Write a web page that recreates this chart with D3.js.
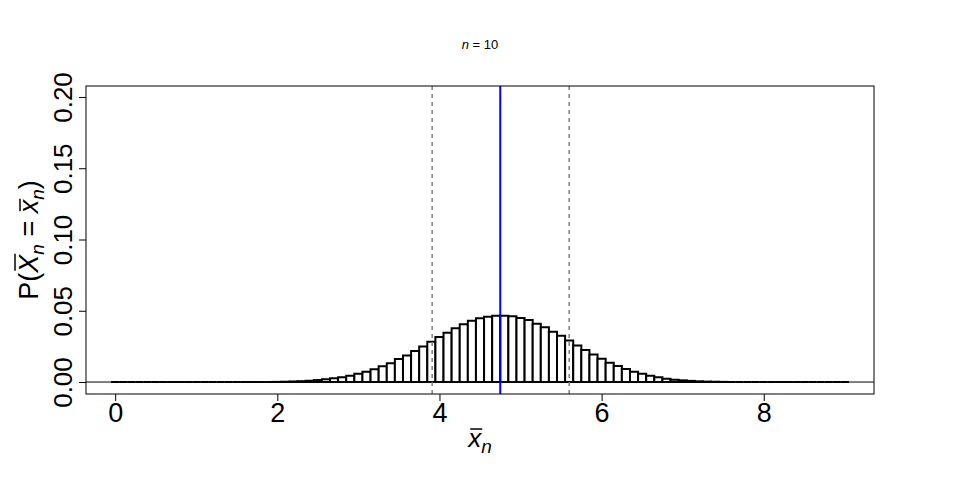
<!DOCTYPE html>
<html>
<head>
<meta charset="utf-8">
<script src="https://cdn.jsdelivr.net/npm/d3@7"></script>
<style>
  body { margin: 0; background: #fff; }
  svg { font-family: "Liberation Sans", Arial, sans-serif; }
</style>
</head>
<body>
<div id="chart"></div>
<script>
// Support of the sample mean (steps of 0.1 from 0 to 9).
const xbarValues = [
  0.0, 0.1, 0.2, 0.3, 0.4, 0.5, 0.6, 0.7, 0.8, 0.9,
  1.0, 1.1, 1.2, 1.3, 1.4, 1.5, 1.6, 1.7, 1.8, 1.9,
  2.0, 2.1, 2.2, 2.3, 2.4, 2.5, 2.6, 2.7, 2.8, 2.9,
  3.0, 3.1, 3.2, 3.3, 3.4, 3.5, 3.6, 3.7, 3.8, 3.9,
  4.0, 4.1, 4.2, 4.3, 4.4, 4.5, 4.6, 4.7, 4.8, 4.9,
  5.0, 5.1, 5.2, 5.3, 5.4, 5.5, 5.6, 5.7, 5.8, 5.9,
  6.0, 6.1, 6.2, 6.3, 6.4, 6.5, 6.6, 6.7, 6.8, 6.9,
  7.0, 7.1, 7.2, 7.3, 7.4, 7.5, 7.6, 7.7, 7.8, 7.9,
  8.0, 8.1, 8.2, 8.3, 8.4, 8.5, 8.6, 8.7, 8.8, 8.9,
  9.0
];

// Probabilities.
const probValues = [
  0, 0, 0, 0, 0, 0, 0, 0, 0, 0,
  0, 0, 0, 0, 0, 0, 0, 0, 0, 0,
  0.0001, 0.0002, 0.0004, 0.0006, 0.0009, 0.0014, 0.0019, 0.0026, 0.0033, 0.0044,
  0.0058, 0.0072, 0.0089, 0.0111, 0.0131, 0.0161, 0.0187, 0.0218, 0.0250, 0.0283,
  0.0316, 0.0346, 0.0377, 0.0405, 0.0430, 0.0447, 0.0458, 0.0465, 0.0465, 0.0461,
  0.0449, 0.0435, 0.0409, 0.0384, 0.0353, 0.0325, 0.0292, 0.0257, 0.0225, 0.0194,
  0.0164, 0.0135, 0.0112, 0.0091, 0.0072, 0.0058, 0.0044, 0.0033, 0.0023, 0.0016,
  0.0012, 0.0008, 0.0005, 0.0003, 0.0002, 0.0001, 0, 0, 0, 0,
  0, 0, 0, 0, 0, 0, 0, 0, 0, 0,
  0
];

const meanValue = 4.75;
const intervalValues = [3.91, 5.60];

const xTicks = [0, 2, 4, 6, 8];
const yTicks = [0, 0.05, 0.10, 0.15, 0.20];

const width = 960;
const height = 480;

// Plot box.
const box = { left: 86, right: 874, top: 86, bottom: 394 };

const data = xbarValues.map((x, i) => ({ x: x, p: probValues[i] }));

const svg = d3.select('#chart')
  .append('svg')
  .attr('width', width)
  .attr('height', height);

const xScale = d3.scaleLinear()
  .domain([-0.36, 9.36])
  .range([box.left, box.right]);

const yScale = d3.scaleLinear()
  .domain([-0.0084, 0.2077])
  .range([box.bottom, box.top]);

const barWidth = xScale(0.1) - xScale(0);

// Bars drawn as closed paths so zero-height bars still show their outline.
svg.append('g')
  .selectAll('path')
  .data(data)
  .enter()
  .append('path')
  .attr('d', (d) => {
    const x0 = xScale(d.x) - barWidth / 2;
    const x1 = xScale(d.x) + barWidth / 2;
    const y0 = yScale(0);
    const y1 = yScale(d.p);
    return `M${x0},${y0}V${y1}H${x1}V${y0}Z`;
  })
  .attr('fill', '#fff')
  .attr('stroke', '#000')
  .attr('stroke-width', 2);

// Zero line.
svg.append('line')
  .attr('x1', box.left)
  .attr('x2', box.right)
  .attr('y1', yScale(0))
  .attr('y2', yScale(0))
  .attr('stroke', '#000')
  .attr('stroke-width', 1);

// Dashed interval lines.
svg.append('g')
  .selectAll('line')
  .data(intervalValues)
  .enter()
  .append('line')
  .attr('x1', (d) => xScale(d))
  .attr('x2', (d) => xScale(d))
  .attr('y1', box.top)
  .attr('y2', box.bottom)
  .attr('stroke', '#808080')
  .attr('stroke-width', 1.5)
  .attr('stroke-dasharray', '4,4');

// Mean line.
svg.append('line')
  .attr('x1', xScale(meanValue))
  .attr('x2', xScale(meanValue))
  .attr('y1', box.top)
  .attr('y2', box.bottom)
  .attr('stroke', '#0000ff')
  .attr('stroke-width', 2);

// Box.
svg.append('rect')
  .attr('x', box.left)
  .attr('y', box.top)
  .attr('width', box.right - box.left)
  .attr('height', box.bottom - box.top)
  .attr('fill', 'none')
  .attr('stroke', '#000')
  .attr('stroke-width', 1);

// Axes.
const xAxis = d3.axisBottom(xScale)
  .tickValues(xTicks)
  .tickSize(7)
  .tickFormat(d3.format('d'));

const gx = svg.append('g')
  .attr('transform', `translate(0, ${box.bottom})`)
  .call(xAxis);
gx.select('.domain').remove();
gx.selectAll('.tick line').attr('stroke', '#000');
gx.selectAll('.tick text')
  .attr('fill', '#000')
  .attr('y', 28)
  .attr('dy', 0)
  .style('font-size', '27px');

const yAxis = d3.axisLeft(yScale)
  .tickValues(yTicks)
  .tickSize(7)
  .tickFormat(d3.format('.2f'));

const gy = svg.append('g')
  .attr('transform', `translate(${box.left}, 0)`)
  .call(yAxis);
gy.select('.domain').remove();
gy.selectAll('.tick line').attr('stroke', '#000');
gy.selectAll('.tick text')
  .attr('fill', '#000')
  .attr('transform', 'rotate(-90)')
  .attr('x', 0)
  .attr('y', -14)
  .attr('dy', 0)
  .attr('text-anchor', 'middle')
  .style('font-size', '26px');

// Title.
const title = svg.append('text')
  .attr('x', width / 2)
  .attr('y', 49)
  .attr('text-anchor', 'middle')
  .style('font-size', '13px');
title.append('tspan').style('font-style', 'italic').text('n');
title.append('tspan').text(' = 10');

// Draw a bar over one character of a label (plotmath bar()).
function overbar(g, textSel, index, top) {
  const ext = textSel.node().getExtentOfChar(index);
  g.append('line')
    .attr('x1', ext.x + 2)
    .attr('x2', ext.x + ext.width + 1)
    .attr('y1', top)
    .attr('y2', top)
    .attr('stroke', '#000')
    .attr('stroke-width', 1.5);
}

// X label.
const gxLabel = svg.append('g')
  .attr('transform', `translate(${width / 2}, 447)`);
const xLabel = gxLabel.append('text')
  .attr('text-anchor', 'middle')
  .style('font-size', '26px');
xLabel.append('tspan')
  .style('font-style', 'italic')
  .text('x');
xLabel.append('tspan')
  .style('font-style', 'italic')
  .style('font-size', '19px')
  .attr('dy', 6)
  .text('n');
overbar(gxLabel, xLabel, 0, -18);

// Y label.
const gyLabel = svg.append('g')
  .attr('transform', `translate(38, ${(box.top + box.bottom) / 2}) rotate(-90)`);
const yLabel = gyLabel.append('text')
  .attr('text-anchor', 'middle')
  .style('font-size', '27px');
yLabel.append('tspan').text('P(');
yLabel.append('tspan')
  .style('font-style', 'italic')
  .text('X');
yLabel.append('tspan')
  .style('font-style', 'italic')
  .style('font-size', '19px')
  .attr('dy', 6)
  .text('n');
yLabel.append('tspan')
  .attr('dy', -6)
  .text(' = ');
yLabel.append('tspan')
  .style('font-style', 'italic')
  .text('x');
yLabel.append('tspan')
  .style('font-style', 'italic')
  .style('font-size', '19px')
  .attr('dy', 6)
  .text('n');
yLabel.append('tspan')
  .attr('dy', -6)
  .text(')');
overbar(gyLabel, yLabel, 2, -23);
overbar(gyLabel, yLabel, 7, -18);
</script>
</body>
</html>
